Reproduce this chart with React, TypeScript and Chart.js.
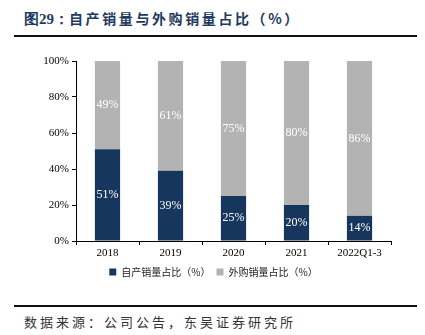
import React, { useEffect, useRef } from "react";
import { Chart, registerables } from "chart.js";
Chart.register(...registerables);

const categories = ["2018", "2019", "2020", "2021", "2022Q1-3"];
const selfShare = [51, 39, 25, 20, 14];
const purchasedShare = [49, 61, 75, 80, 86];
const yTicks = [0, 20, 40, 60, 80, 100];
const seriesNames = ["自产销量占比（%）", "外购销量占比（%）"];

const labelPlugin = {
  id: "segLabels",
  afterDatasetsDraw(chart: any) {
    const ctx = chart.ctx;
    ctx.save();
    ctx.fillStyle = "#ffffff";
    ctx.font = "12px 'Liberation Serif', 'Times New Roman', serif";
    ctx.textAlign = "center";
    ctx.textBaseline = "middle";
    chart.data.datasets.forEach((ds: any, di: number) => {
      const meta = chart.getDatasetMeta(di);
      meta.data.forEach((el: any, i: number) => {
        const y = (el.y + el.base) / 2;
        ctx.fillText(ds.data[i] + "%", el.x, y);
      });
    });
    ctx.restore();
  },
};

export default function App() {
  const ref = useRef<HTMLCanvasElement>(null);
  useEffect(() => {
    if (!ref.current) return;
    const serif = "'Liberation Serif', 'Times New Roman', serif";
    const chart = new Chart(ref.current, {
      type: "bar",
      data: {
        labels: categories,
        datasets: [
          {
            label: seriesNames[0],
            data: selfShare,
            backgroundColor: "#17365D",
            barPercentage: 0.4,
            categoryPercentage: 1,
          },
          {
            label: seriesNames[1],
            data: purchasedShare,
            backgroundColor: "#B3B3B3",
            barPercentage: 0.4,
            categoryPercentage: 1,
          },
        ],
      },
      options: {
        animation: false,
        responsive: false,
        maintainAspectRatio: false,
        layout: { padding: { left: 36, right: 34, top: 11, bottom: 3 } },
        plugins: {
          tooltip: { enabled: false },
          legend: {
            position: "bottom",
            labels: {
              boxWidth: 7,
              boxHeight: 7,
              padding: 6,
              color: "#222",
              font: { size: 10, family: "'Noto Sans CJK SC', sans-serif" },
            },
          },
        },
        scales: {
          x: {
            stacked: true,
            border: { display: true, color: "#000", width: 1 },
            grid: {
              display: true,
              offset: true,
              drawOnChartArea: false,
              drawTicks: true,
              tickLength: 4,
              color: "#000",
            },
            ticks: { color: "#000", font: { size: 11, family: serif }, padding: 2 },
            afterFit: (s: any) => {
              s.height = 20;
            },
          },
          y: {
            stacked: true,
            min: 0,
            max: 100,
            border: { display: true, color: "#000", width: 1 },
            grid: {
              display: true,
              drawOnChartArea: false,
              drawTicks: true,
              tickLength: 4,
              color: "#000",
            },
            afterBuildTicks: (s: any) => {
              s.ticks = yTicks.map((v) => ({ value: v }));
            },
            ticks: {
              color: "#000",
              font: { size: 11, family: serif },
              padding: 3,
              callback: (v: any) => v + "%",
            },
            afterFit: (s: any) => {
              s.width = 40;
            },
          },
        },
      },
      plugins: [labelPlugin],
    });
    return () => chart.destroy();
  }, []);

  return (
    <div style={{ position: "absolute", left: 0, top: 0, width: 425, height: 335, background: "#fff", overflow: "hidden" }}>
      <div
        style={{
          position: "absolute",
          left: 24,
          top: 9,
          fontSize: 14,
          fontWeight: "bold",
          color: "#1F3A60",
          fontFamily: "'Noto Sans CJK SC', sans-serif",
          whiteSpace: "nowrap",
          lineHeight: "18px",
          letterSpacing: "2.6px",
        }}
      >
        <span style={{ fontFamily: "'Liberation Serif', serif", fontSize: 15, letterSpacing: "0px" }}>图29：</span>自产销量与外购销量占比（%）
      </div>
      <div style={{ position: "absolute", left: 14, top: 35, width: 403, height: 2, background: "#111" }} />
      <canvas ref={ref} width={425} height={240} style={{ position: "absolute", left: 0, top: 50 }} />
      <div style={{ position: "absolute", left: 14, top: 305, width: 403, height: 2, background: "#111" }} />
      <div
        style={{
          position: "absolute",
          left: 24,
          top: 313,
          fontSize: 13,
          color: "#333",
          fontFamily: "'Noto Sans CJK SC', sans-serif",
          whiteSpace: "nowrap",
          lineHeight: "18px",
          letterSpacing: "3px",
        }}
      >
        数据来源：公司公告，东吴证券研究所
      </div>
    </div>
  );
}
